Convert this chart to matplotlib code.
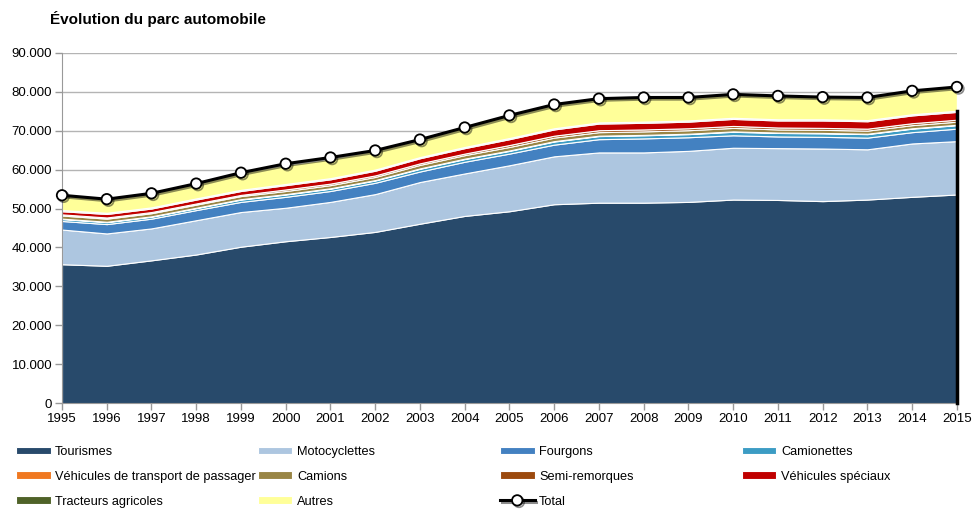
import matplotlib
matplotlib.use("Agg")
from matplotlib import pyplot as plt
from matplotlib import patheffects as pe
from matplotlib.ticker import FuncFormatter

plt.rcParams['font.family'] = ['Liberation Sans', 'DejaVu Sans']

# valeurs en milliers de véhicules
years = list(range(1995, 2016))
tourismes = [35.7, 35.3, 36.7, 38.2, 40.2, 41.6, 42.7, 44.0, 46.1, 48.1, 49.3,
             51.1, 51.5, 51.5, 51.7, 52.3, 52.2, 51.9, 52.3, 53.0, 53.6]
motocyclettes = [8.9, 8.3, 8.2, 8.8, 8.9, 8.6, 9.0, 9.7, 10.7, 10.9, 11.8,
                 12.3, 12.9, 12.9, 13.1, 13.3, 13.3, 13.5, 12.9, 13.7, 13.7]
fourgons = [2.2, 2.4, 2.5, 2.6, 2.6, 2.8, 2.8, 2.9, 2.7, 3.0, 3.0,
            3.0, 3.4, 3.6, 3.5, 3.2, 3.0, 3.0, 3.0, 2.9, 3.2]
camionettes = [0.5, 0.5, 0.5, 0.5, 0.6, 0.6, 0.6, 0.6, 0.7, 0.7, 0.7,
               0.8, 0.8, 0.8, 0.8, 0.9, 0.9, 0.9, 0.9, 0.9, 0.9]
passagers = [0.1, 0.1, 0.1, 0.1, 0.1, 0.1, 0.1, 0.1, 0.1, 0.1, 0.1,
             0.1, 0.1, 0.1, 0.1, 0.1, 0.1, 0.1, 0.1, 0.1, 0.1]
camions = [0.8, 0.8, 0.8, 0.8, 0.8, 0.8, 0.8, 0.8, 0.9, 0.9, 0.9,
           0.9, 0.9, 0.9, 0.9, 0.9, 0.8, 0.8, 0.8, 0.8, 0.8]
semi_remorques = [0.3, 0.3, 0.3, 0.3, 0.3, 0.4, 0.4, 0.4, 0.4, 0.4, 0.5,
                  0.5, 0.5, 0.5, 0.5, 0.5, 0.5, 0.5, 0.5, 0.5, 0.5]
speciaux = [0.8, 0.9, 0.9, 1.0, 1.0, 1.1, 1.1, 1.2, 1.3, 1.4, 1.5,
            1.6, 1.7, 1.7, 1.7, 1.8, 1.8, 1.9, 1.9, 2.0, 2.0]
tracteurs = [0.3, 0.3, 0.3, 0.3, 0.3, 0.3, 0.3, 0.3, 0.3, 0.3, 0.3,
             0.3, 0.3, 0.3, 0.3, 0.3, 0.3, 0.3, 0.3, 0.3, 0.3]
autres = [3.8, 3.5, 3.6, 3.8, 4.4, 4.9, 5.0, 4.9, 4.5, 5.0, 5.8,
          6.1, 6.1, 6.2, 5.9, 6.0, 6.0, 5.7, 5.8, 6.0, 6.1]
total = [53.4, 52.4, 53.9, 56.4, 59.2, 61.5, 63.1, 64.9, 67.7, 70.8, 73.9,
         76.7, 78.2, 78.5, 78.5, 79.3, 78.9, 78.6, 78.5, 80.2, 81.2]

series = [tourismes, motocyclettes, fourgons, camionettes, passagers, camions,
          semi_remorques, speciaux, tracteurs, autres]
labels = ['Tourismes', 'Motocyclettes', 'Fourgons', 'Camionettes',
          'Véhicules de transport de passager', 'Camions', 'Semi-remorques',
          'Véhicules spéciaux', 'Tracteurs agricoles', 'Autres']
colors = ['#284a6b', '#adc6e0', '#4381c1', '#3c9cc4', '#f07820', '#998545',
          '#9c4a0e', '#c00000', '#4f6228', '#ffff99']

fig = plt.figure(figsize=(9.78, 5.13), dpi=100)
ax = fig.add_axes([0.0634, 0.2138, 0.915, 0.6835])

polys = ax.stackplot(years, [[v * 1000 for v in s] for s in series],
                     labels=labels, colors=colors, edgecolor='white', linewidth=0.8)

# bord droit noir de la zone empilée (sans "Autres")
top_no_autres = sum(s[-1] for s in series[:-1]) * 1000
ax.plot([years[-1], years[-1]], [0, top_no_autres], color='black', lw=2.5,
        clip_on=False, zorder=3)

line, = ax.plot(years, [v * 1000 for v in total], color='black', lw=2.2,
                marker='o', markersize=7.5, markerfacecolor='white',
                markeredgecolor='black', markeredgewidth=1.3, clip_on=False,
                zorder=5, label='Total',
                path_effects=[pe.SimpleLineShadow(offset=(1.2, -1.2), shadow_color='black', alpha=0.45),
                              pe.Normal()])

ax.set_xlim(1995, 2015)
ax.set_ylim(0, 90000)
ax.set_xticks(years)
ax.set_yticks(range(0, 90001, 10000))
ax.yaxis.set_major_formatter(FuncFormatter(lambda v, p: f"{v:,.0f}".replace(",", ".")))
ax.tick_params(axis='both', labelsize=9.5, colors='#999999', labelcolor='black',
               length=5, width=1, direction='out', pad=2)
ax.grid(True, axis='y', color='#b4b4b4', lw=1)
ax.set_axisbelow(True)
for s in ['top', 'right']:
    ax.spines[s].set_visible(False)
ax.spines['left'].set_color('#999999')
ax.spines['bottom'].set_color('#999999')

fig.text(0.051, 0.963, "Évolution du parc automobile", fontsize=11,
         fontweight='bold', va='center', ha='left')

handles = list(polys) + [line]
all_labels = labels + ['Total']
col_x = [16, 258, 500, 742]
for j in range(4):
    idx = list(range(j, len(handles), 4))
    leg = fig.legend([handles[i] for i in idx], [all_labels[i] for i in idx],
                     loc='upper left', bbox_to_anchor=(col_x[j] / 978, 1 - 446 / 513),
                     frameon=False, fontsize=9.2, handlelength=2.7, handleheight=0.55,
                     handletextpad=0.35, labelspacing=1.0, borderpad=0, borderaxespad=0)

plt.savefig('out.png', dpi=100)
